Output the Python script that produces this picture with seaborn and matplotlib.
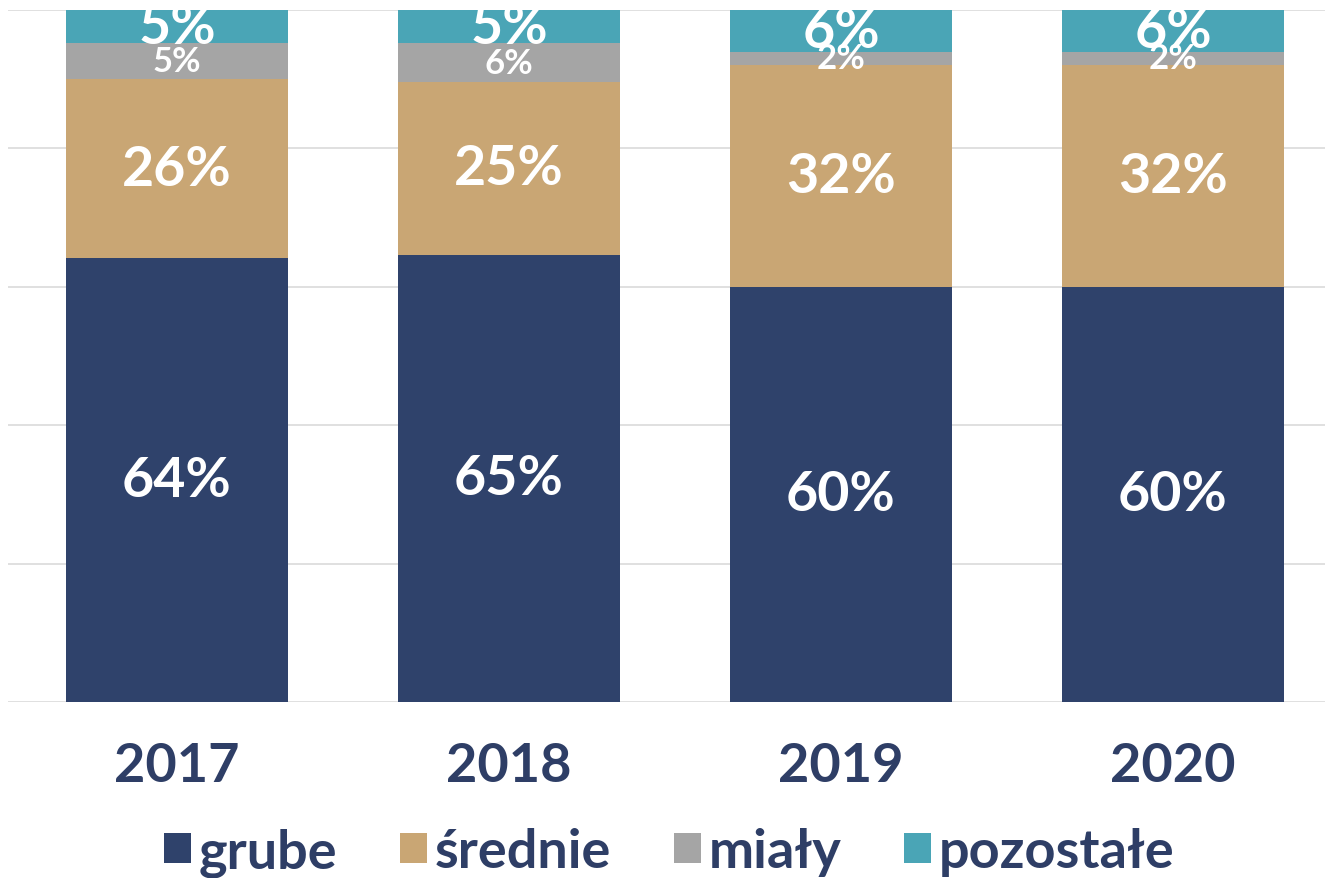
import numpy as np
import pandas as pd
import matplotlib
matplotlib.use('Agg')
import matplotlib.pyplot as plt
import seaborn as sns
from matplotlib.patches import Patch

sns.set_theme(style='white')
plt.rcParams['font.family'] = ['Lato', 'DejaVu Sans']

# shares (labels are rounded to whole percent)
YEARS      = ['2017', '2018', '2019', '2020']
GRUBE      = [64.1, 64.6, 60.0, 60.0]
SREDNIE    = [25.9, 25.0, 32.0, 32.0]
MIALY      = [5.2, 5.6, 2.0, 2.0]
POZOSTALE  = [4.8, 4.8, 6.0, 6.0]

SERIES = ['grube', 'średnie', 'miały', 'pozostałe']
COLORS = {
    'grube':     '#2F426B',
    'średnie':   '#C9A674',
    'miały':     '#A5A5A5',
    'pozostałe': '#4AA5B6',
}
TEXT_COLOR = '#2E3E66'

df = pd.DataFrame({'year': YEARS, 'grube': GRUBE, 'średnie': SREDNIE,
                   'miały': MIALY, 'pozostałe': POZOSTALE})
cum = df[SERIES].cumsum(axis=1)

fig = plt.figure(figsize=(13.25, 8.79), dpi=100)
ax = fig.add_axes([8 / 1325, 1 - 703 / 879, 1 - 8 / 1325, (703 - 11) / 879])

# stacked bars: draw cumulative totals from the top segment down
for s in reversed(SERIES):
    sns.barplot(x=df['year'], y=cum[s], color=COLORS[s], width=0.666,
                saturation=1, linewidth=0, ax=ax, zorder=3)

# segment labels
for i, yr in enumerate(YEARS):
    base = 0
    for s in SERIES:
        v = df.loc[i, s]
        size = 25 if s == 'miały' else 40
        ax.text(i, base + v / 2, f'{v:.0f}%', ha='center', va='center',
                color='white', fontsize=size, fontweight='bold',
                zorder=5, clip_on=True)
        base += v

ax.set_xlim(-(177 - 8) / 332, 3 + (1325 - 1173) / 332)
ax.set_ylim(0, 100)
ax.set_yticks(np.arange(0, 101, 20))
ax.set_yticklabels([])
ax.yaxis.grid(True, color='#DADADA', linewidth=1.2, zorder=0)
ax.set_axisbelow(True)
ax.set_xlabel('')
ax.set_ylabel('')
ax.tick_params(axis='x', length=0, pad=28, labelsize=39, labelcolor=TEXT_COLOR)
ax.tick_params(axis='y', length=0)
for lbl in ax.get_xticklabels():
    lbl.set_fontweight('bold')
sns.despine(ax=ax, left=True, bottom=True)

handles = [Patch(facecolor=COLORS[s], edgecolor='none', label=s) for s in SERIES]
leg = fig.legend(handles=handles, loc='center', bbox_to_anchor=(0.505, 1 - 853 / 879),
                 ncol=4, frameon=False, fontsize=39, handlelength=0.5,
                 handleheight=0.5, handletextpad=0.15, columnspacing=1.15)
for t in leg.get_texts():
    t.set_color(TEXT_COLOR)
    t.set_fontweight('bold')

fig.savefig('out.png', dpi=100)
